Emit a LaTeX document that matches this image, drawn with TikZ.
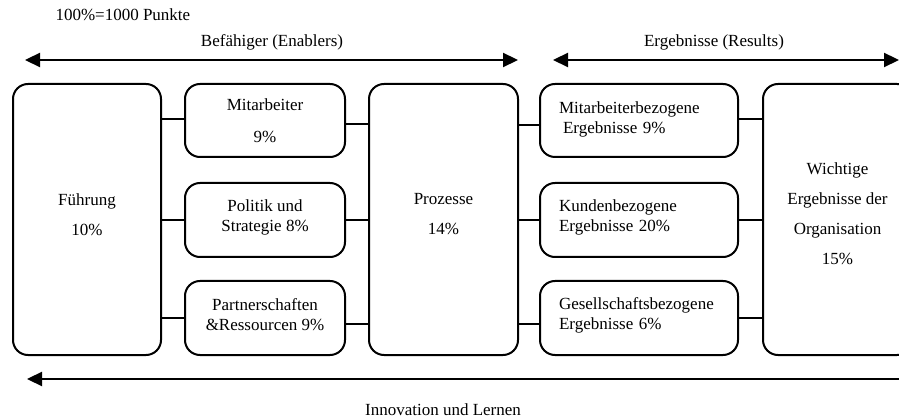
\documentclass[tikz,border=0pt]{standalone}
\usepackage{fontspec}
\setmainfont{Liberation Serif}
\usetikzlibrary{arrows.meta,calc}
\begin{document}
\begin{tikzpicture}[x=1pt,y=-1pt,
  every node/.style={font=\fontsize{17}{20}\selectfont},
  box/.style={draw,line width=2pt,rounded corners=15pt,inner sep=0pt},
  bigbox/.style={box,minimum width=148pt,minimum height=271pt},
  enabler/.style={box,minimum width=160pt,minimum height=74pt},
  result/.style={box,minimum width=198pt,minimum height=74pt},
  ctext/.style={align=center,inner sep=0pt},
  ltext/.style={align=left,text width=160pt,inner sep=0pt},
  link/.style={line width=2pt},
  flow/.style={line width=2.2pt,{Triangle[length=15pt,width=14pt]}-{Triangle[length=15pt,width=14pt]}},
  back/.style={line width=2.2pt,{Triangle[length=15pt,width=14pt]}-}]
\useasboundingbox (0,0) rectangle (899,419);
\clip (0,0) rectangle (899,419);

% headings
\node[anchor=west] (pts) at (52,15) {100\%=1000 Punkte};
\node (enab) at (272,42) {Befähiger (Enablers)};
\node (res) at (714,42) {Ergebnisse (Results)};
\node (inno) at (443,410) {Innovation und Lernen};

% direction arrows
\coordinate (e1) at (25,60);
\coordinate (e2) at (518,60);
\coordinate (r1) at (553,60);
\coordinate (r2) at (899,60);
\coordinate (b1) at (27,379);
\coordinate (b2) at (905,379);
\draw[flow] (e1) -- (e2);
\draw[flow] (r1) -- (r2);
\draw[back] (b1) -- (b2);

% enabler boxes
\node[bigbox,label={[ctext,yshift=5pt]center:Führung\\[10pt]10\%}] (fuehr) at (87,219.5) {};
\node[enabler,minimum height=73pt,label={[ctext,yshift=0pt]center:Mitarbeiter\\[12pt]9\%}] (mit) at (265,120.5) {};
\node[enabler,label={[ctext,yshift=3pt]center:Politik und\\Strategie 8\%}] (pol) at (265,220) {};
\node[enabler,label={[ctext,yshift=3pt]center:Partnerschaften\\\&Ressourcen 9\%}] (part) at (265,318) {};
\node[bigbox,minimum width=149pt,label={[ctext,yshift=5pt]center:Prozesse\\[10pt]14\%}] (proz) at (443.5,219.5) {};

% result boxes
\node[result,minimum height=73pt,label={[ltext,yshift=1.5pt]center:Mitarbeiterbezogene\\\hspace*{4pt}Ergebnisse 9\%}] (mres) at (639,120.5) {};
\node[result,label={[ltext,yshift=3pt]center:Kundenbezogene\\Ergebnisse 20\%}] (kres) at (639,220) {};
\node[result,label={[ltext,yshift=3pt]center:Gesellschaftsbezogene\\Ergebnisse 6\%}] (gres) at (639,318) {};
\node[bigbox,minimum width=149pt,label={[ctext,yshift=6pt]center:Wichtige\\[10pt]Ergebnisse der\\[10pt]Organisation\\[10pt]15\%}] (org) at (837.5,219.5) {};

% links between boxes
\draw[link] ([yshift=1.5pt]mit.west) -- ([yshift=1.5pt]fuehr.east |- mit.west);
\draw[link] ([yshift=-3.5pt]mit.east) -- ([yshift=-3.5pt]proz.west |- mit.east);
\draw[link] (pol.west) -- (fuehr.east |- pol.west);
\draw[link] (pol.east) -- (proz.west |- pol.east);
\draw[link] (part.west) -- (fuehr.east |- part.west);
\draw[link] ([yshift=-6pt]part.east) -- ([yshift=-6pt]proz.west |- part.east);

\draw[link] ([yshift=-4.5pt]mres.west) -- ([yshift=-4.5pt]proz.east |- mres.west);
\draw[link] ([yshift=1.5pt]mres.east) -- ([yshift=1.5pt]org.west |- mres.east);
\draw[link] (kres.west) -- (proz.east |- kres.west);
\draw[link] (kres.east) -- (org.west |- kres.east);
\draw[link] ([yshift=-6pt]gres.west) -- ([yshift=-6pt]proz.east |- gres.west);
\draw[link] (gres.east) -- (org.west |- gres.east);
\end{tikzpicture}
\end{document}
